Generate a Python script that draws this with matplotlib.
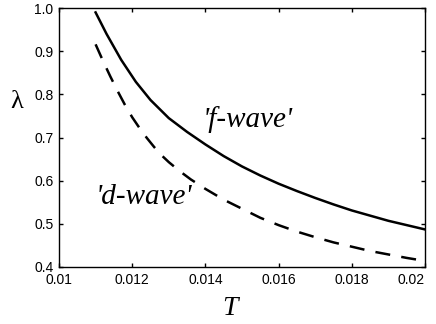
"""Coupling lambda versus T for the f-wave and d-wave solutions."""

import matplotlib
matplotlib.use("Agg")
import matplotlib.pyplot as plt

# ---------- data ----------
T_f = [0.0110, 0.0113, 0.0117, 0.0121, 0.0125, 0.0130, 0.0135, 0.0140,
       0.0145, 0.0150, 0.0155, 0.0160, 0.0165, 0.0170, 0.0175, 0.0180,
       0.0185, 0.0190, 0.0195, 0.0200]
lam_f = [0.990, 0.940, 0.880, 0.829, 0.787, 0.745, 0.713, 0.684,
         0.657, 0.633, 0.612, 0.593, 0.576, 0.560, 0.545, 0.531,
         0.519, 0.507, 0.497, 0.487]

T_d = [0.0110, 0.0112, 0.0114, 0.0116, 0.0118, 0.0120, 0.0122, 0.0124,
       0.0126, 0.0128, 0.0130, 0.0133, 0.0136, 0.0140, 0.0145, 0.0150,
       0.0155, 0.0160, 0.0165, 0.0170, 0.0175, 0.0180, 0.0185, 0.0190,
       0.0195, 0.0200]
lam_d = [0.916, 0.878, 0.842, 0.808, 0.776, 0.747, 0.722, 0.699,
         0.678, 0.659, 0.643, 0.622, 0.603, 0.581, 0.556, 0.535,
         0.514, 0.497, 0.482, 0.469, 0.457, 0.447, 0.437, 0.429,
         0.421, 0.414]

x_ticks = [0.01, 0.012, 0.014, 0.016, 0.018, 0.02]
x_tick_labels = ["0.01", "0.012", "0.014", "0.016", "0.018", "0.02"]
y_ticks = [0.4, 0.5, 0.6, 0.7, 0.8, 0.9, 1.0]
y_tick_labels = ["0.4", "0.5", "0.6", "0.7", "0.8", "0.9", "1.0"]
# -------------------------------------------------

sans = ["Liberation Sans", "DejaVu Sans"]
serif = ["Liberation Serif", "DejaVu Serif"]

fig = plt.figure(figsize=(4.36, 3.24), dpi=100)
ax = fig.add_axes([0.1353, 0.176, 0.8395, 0.799])

ax.plot(T_f, lam_f, color="black", lw=1.8)
ax.plot(T_d, lam_d, color="black", lw=1.8, dashes=(6, 4.5))

ax.set_xlim(0.01, 0.02)
ax.set_ylim(0.4, 1.0)
ax.set_xticks(x_ticks)
ax.set_xticklabels(x_tick_labels, fontfamily=sans, fontsize=10)
ax.set_yticks(y_ticks)
ax.set_yticklabels(y_tick_labels, fontfamily=sans, fontsize=10)
ax.tick_params(direction="in", length=3, width=1, top=True, right=True)
ax.tick_params(axis="x", pad=4)
ax.tick_params(axis="y", pad=4)
for spine in ax.spines.values():
    spine.set_linewidth(1.0)
# keep the last x label inside the canvas
ax.get_xticklabels()[-1].set_horizontalalignment("right")
ax.get_xticklabels()[-1].set_x(0.0201)

ax.set_ylabel("λ", family=serif, fontsize=19, rotation=0, ha="center", va="center")
ax.yaxis.set_label_coords(-0.115, 0.637)
ax.set_xlabel("T", family=serif, style="italic", fontsize=20, ha="center", va="center")
ax.xaxis.set_label_coords(0.467, -0.162)

ax.text(0.01516, 0.741, "'f-wave'", family=serif, style="italic", fontsize=21,
        ha="center", va="center")
ax.text(0.01232, 0.5625, "'d-wave'", family=serif, style="italic", fontsize=21,
        ha="center", va="center")

fig.savefig("out.png", dpi=100)
